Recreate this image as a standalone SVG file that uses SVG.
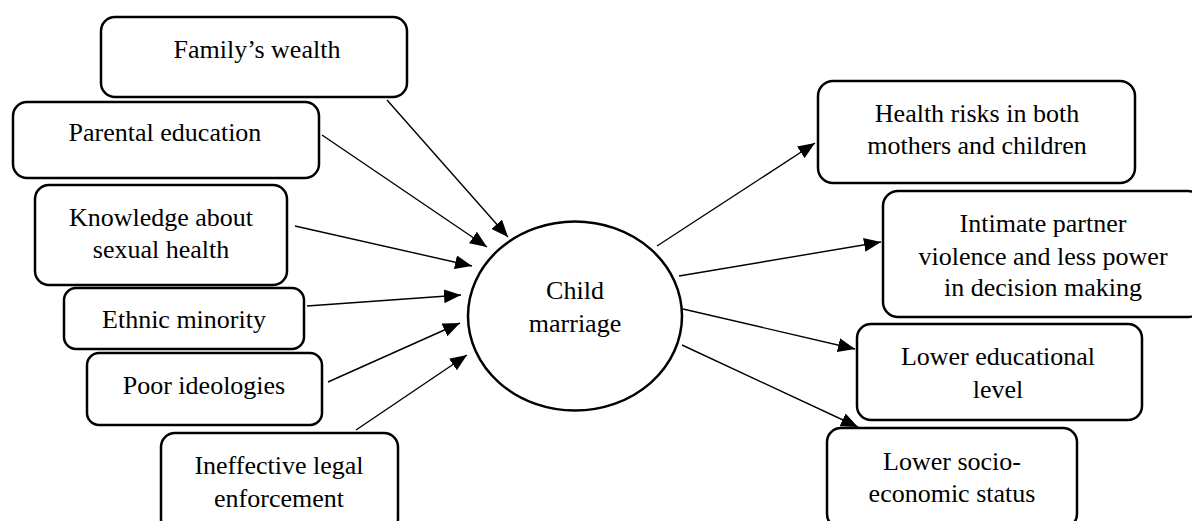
<svg xmlns="http://www.w3.org/2000/svg" width="1192" height="521" viewBox="0 0 1192 521">
<style>
.box{fill:#fff;stroke:#000;stroke-width:2.5}
text{font-family:'Liberation Serif','DejaVu Serif',serif;font-size:26px;fill:#000;text-anchor:middle}
.c{stroke:#000;stroke-width:1.4;fill:none;marker-end:url(#ah)}
</style>
<defs>
<marker id="ah" markerUnits="userSpaceOnUse" markerWidth="18" markerHeight="14" refX="17" refY="7" orient="auto">
<path d="M0,0 L17,7 L0,14 Z" fill="#000"/>
</marker>
</defs>
<g id="connectors">
<line class="c" x1="387" y1="100" x2="508" y2="237"/>
<line class="c" x1="322" y1="135" x2="487" y2="247"/>
<line class="c" x1="295" y1="226" x2="472" y2="266"/>
<line class="c" x1="307" y1="306" x2="461" y2="295"/>
<line class="c" x1="328" y1="382" x2="460" y2="323"/>
<line class="c" x1="356" y1="430" x2="467" y2="355"/>
<line class="c" x1="657" y1="246" x2="815" y2="143"/>
<line class="c" x1="679" y1="276" x2="881" y2="242"/>
<line class="c" x1="683" y1="309" x2="855" y2="349"/>
<line class="c" x1="682" y1="345" x2="858" y2="427"/>
</g>
<g font-family="Liberation Serif, serif" font-size="26" text-anchor="middle">
<g id="family-wealth">
<rect class="box" x="101" y="17" width="306" height="80" rx="14"/>
<text x="257" y="58">Family’s wealth</text>
</g>
<g id="parental-education">
<rect class="box" x="13" y="102" width="306" height="76" rx="14"/>
<text x="165" y="141">Parental education</text>
</g>
<g id="knowledge">
<rect class="box" x="35" y="185" width="252" height="100" rx="14"/>
<text x="161" y="226">Knowledge about</text>
<text x="161" y="258">sexual health</text>
</g>
<g id="ethnic-minority">
<rect class="box" x="64" y="288" width="240" height="61" rx="12"/>
<text x="184" y="328">Ethnic minority</text>
</g>
<g id="poor-ideologies">
<rect class="box" x="87" y="353" width="235" height="72" rx="12"/>
<text x="204" y="394">Poor ideologies</text>
</g>
<g id="legal-enforcement">
<rect class="box" x="161" y="433" width="237" height="100" rx="14"/>
<text x="279" y="474">Ineffective legal</text>
<text x="279" y="507">enforcement</text>
</g>
<g id="child-marriage">
<ellipse cx="575" cy="316" rx="107" ry="94.5" fill="#fff" stroke="#000" stroke-width="2.5"/>
<text x="575" y="299">Child</text>
<text x="575" y="332">marriage</text>
</g>
<g id="health-risks">
<rect class="box" x="818" y="81" width="317" height="102" rx="15"/>
<text x="977" y="122">Health risks in both</text>
<text x="977" y="154">mothers and children</text>
</g>
<g id="intimate-partner">
<rect class="box" x="883" y="191" width="320" height="126" rx="15"/>
<text x="1043" y="232">Intimate partner</text>
<text x="1043" y="265">violence and less power</text>
<text x="1043" y="296">in decision making</text>
</g>
<g id="lower-education">
<rect class="box" x="857" y="324" width="285" height="96" rx="14"/>
<text x="998" y="365">Lower educational</text>
<text x="998" y="398">level</text>
</g>
<g id="lower-socio">
<rect class="box" x="827" y="428" width="250" height="100" rx="14"/>
<text x="952" y="470">Lower socio-</text>
<text x="952" y="502">economic status</text>
</g>
</g>
</svg>
